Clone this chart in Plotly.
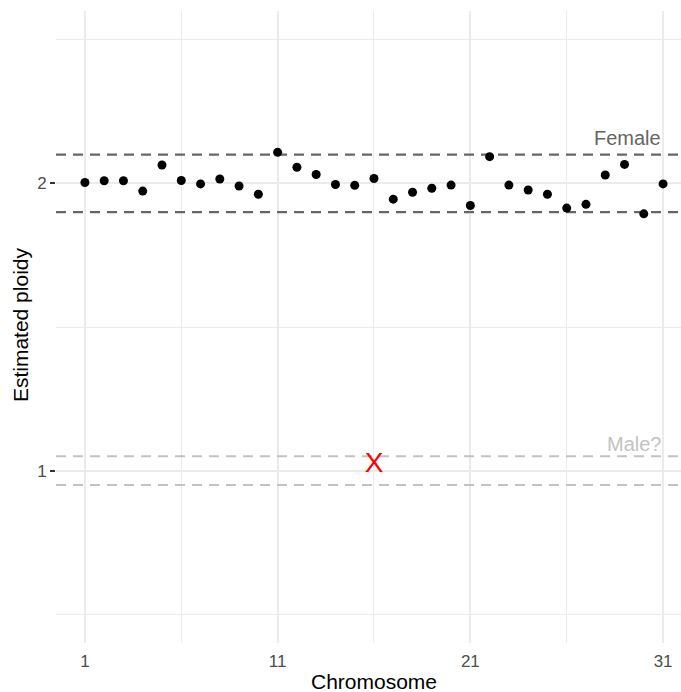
import plotly.graph_objects as go

chromosomes = list(range(1, 32))
ploidy = [2.003, 2.009, 2.009, 1.973, 2.064, 2.010, 1.998, 2.015, 1.991, 1.962,
          2.108, 2.056, 2.031, 1.996, 1.993, 2.017, 1.945, 1.969, 1.983, 1.994,
          1.923, 2.093, 1.994, 1.977, 1.962, 1.914, 1.927, 2.029, 2.066, 1.894,
          1.998]
x_chrom_pos = [16]
x_chrom_ploidy = [1.018]
female_lines = [2.1, 1.9]
male_lines = [1.05, 0.95]
x_ticks = [1, 11, 21, 31]
x_minor = [6, 16, 26]
y_ticks = [1, 2]
y_minor = [0.5, 1.5, 2.5]

FONT = "Liberation Sans, Arial, sans-serif"
fig = go.Figure()

x0, x1 = -0.5, 31.93
for yv in female_lines:
    fig.add_trace(go.Scatter(x=[x0, x1], y=[yv, yv], mode="lines",
                             line=dict(color="#666666", width=2.2, dash="10px,7px"),
                             hoverinfo="skip", showlegend=False))
for yv in male_lines:
    fig.add_trace(go.Scatter(x=[x0, x1], y=[yv, yv], mode="lines",
                             line=dict(color="#c2c2c2", width=2.2, dash="10px,7px"),
                             hoverinfo="skip", showlegend=False))

fig.add_trace(go.Scatter(x=chromosomes, y=ploidy, mode="markers",
                         marker=dict(color="black", size=9),
                         showlegend=False))
fig.add_trace(go.Scatter(x=x_chrom_pos, y=x_chrom_ploidy, mode="text", text=["X"],
                         textposition="middle center",
                         textfont=dict(color="red", size=28, family=FONT),
                         showlegend=False))

fig.add_annotation(x=31, y=2.158, xref="x", yref="y", text="Female", showarrow=False,
                   xanchor="right", yanchor="middle",
                   font=dict(color="#666666", size=20, family=FONT))
fig.add_annotation(x=31, y=1.094, xref="x", yref="y", text="Male?", showarrow=False,
                   xanchor="right", yanchor="middle",
                   font=dict(color="#c2c2c2", size=20, family=FONT))

fig.add_annotation(x=16, y=-0.0617, xref="x", yref="paper", text="Chromosome",
                   showarrow=False, xanchor="center", yanchor="middle",
                   font=dict(color="black", size=21, family=FONT))
fig.add_annotation(x=-0.0576, y=0.503, xref="paper", yref="paper", text="Estimated ploidy",
                   showarrow=False, xanchor="center", yanchor="middle", textangle=-90,
                   font=dict(color="black", size=21, family=FONT))

fig.update_xaxes(range=[x0, x1], tickmode="array", tickvals=x_ticks,
                 ticktext=[str(v) for v in x_ticks],
                 showgrid=True, gridcolor="#ebebeb", gridwidth=1.6,
                 zeroline=False, showline=False, ticks="",
                 ticklabelstandoff=6,
                 tickfont=dict(color="#4d4d4d", size=17, family=FONT),
                 minor=dict(tickmode="array", tickvals=x_minor, showgrid=True,
                            gridcolor="#ebebeb", gridwidth=1.2, ticks=""))
fig.update_yaxes(range=[0.4, 2.6], tickmode="array", tickvals=y_ticks,
                 ticktext=[str(v) for v in y_ticks],
                 showgrid=True, gridcolor="#ebebeb", gridwidth=1.6,
                 zeroline=False, showline=False,
                 ticks="outside", ticklen=5, tickwidth=1.5, tickcolor="#333333",
                 tickfont=dict(color="#4d4d4d", size=17, family=FONT),
                 minor=dict(tickmode="array", tickvals=y_minor, showgrid=True,
                            gridcolor="#ebebeb", gridwidth=1.2, ticks=""))

fig.update_layout(width=681, height=692, plot_bgcolor="white", paper_bgcolor="white",
                  margin=dict(l=56, r=0, t=11, b=49), showlegend=False,
                  font=dict(family=FONT))

fig.write_html("out.html", config={"displayModeBar": False},
               post_script="document.body.style.margin='0';document.body.style.overflow='hidden';")
